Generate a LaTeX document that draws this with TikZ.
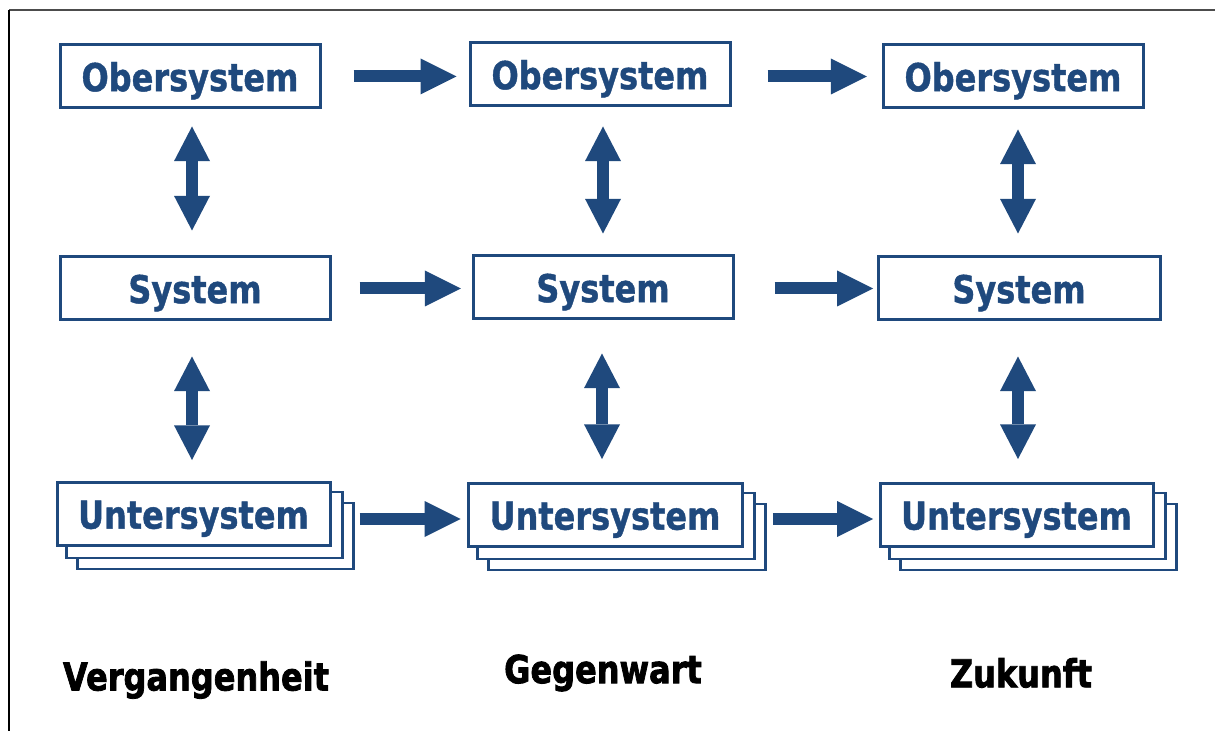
\documentclass[tikz,border=0pt]{standalone}
\usepackage{fontspec}
\usepackage{graphicx}
\setmainfont{DejaVu Sans}[BoldFeatures={FakeBold=1.2}]
\newfontfamily\heavyfont{DejaVu Sans}[BoldFeatures={FakeBold=2.2}]
\usetikzlibrary{arrows.meta,calc}
\pgfdeclarelayer{background}
\pgfsetlayers{background,main}
\definecolor{sysblue}{RGB}{31,73,125}
\newcommand{\boxtext}[1]{\scalebox{1}[1.2]{\bfseries #1}}
\newcommand{\epochtext}[1]{\scalebox{1}[1.2]{\heavyfont\bfseries #1}}
\tikzset{
  sysbox/.style={draw=sysblue, line width=2.25pt, fill=white, inner sep=0pt,
    minimum height=47.25pt, text=sysblue, text height=24pt, text depth=2pt,
    font=\fontsize{24pt}{28pt}\selectfont},
  stackcopy/.style={draw=sysblue, line width=2pt, fill=white},
  flowarrow/.style={draw=sysblue, line width=9pt,
    -{Triangle[width=27pt,length=27pt,line width=0pt]}},
  linkarrow/.style={draw=sysblue, line width=9pt,
    {Triangle[width=27pt,length=26pt,line width=0pt]}-{Triangle[width=27pt,length=26pt,line width=0pt]}},
  epoch/.style={font=\fontsize{24pt}{28pt}\selectfont, text=black, inner sep=0pt}
}
\begin{document}
\begin{tikzpicture}[x=0.75pt,y=-0.75pt]
\useasboundingbox (0,0) rectangle (1215,731);

% frame edges
\draw[black!70, line width=1.5pt] (1215,10) -- (9,10);
\draw[black, line width=1.5pt] (9,10) -- (9,731);

% past
\node[sysbox, minimum width=195pt]   (o1) at (190,76.5)  {\boxtext{Obersystem}};
\node[sysbox, minimum width=202.5pt] (s1) at (195,288.5) {\boxtext{System}};
\node[sysbox, minimum width=204.75pt](u1) at (193.5,514) {\boxtext{Untersystem}};
% present
\node[sysbox, minimum width=195pt]   (o2) at (600,74.5)  {\boxtext{Obersystem}};
\node[sysbox, minimum width=195pt]   (s2) at (603,287.5) {\boxtext{System}};
\node[sysbox, minimum width=205.5pt] (u2) at (605,515)   {\boxtext{Untersystem}};
% future
\node[sysbox, minimum width=195pt]   (o3) at (1013,76.5) {\boxtext{Obersystem}};
\node[sysbox, minimum width=211.5pt] (s3) at (1019,288.5){\boxtext{System}};
\node[sysbox, minimum width=204.75pt](u3) at (1016.5,515){\boxtext{Untersystem}};

% page background and stacked sheets behind each subsystem box
\begin{pgfonlayer}{background}
\fill[white] (0,0) rectangle (1215,731);
\foreach \u in {u1,u2,u3}{
  \draw[stackcopy] ([shift={(22,22)}]\u.south west) rectangle ([shift={(22,22)}]\u.north east);
  \draw[stackcopy] ([shift={(11,11)}]\u.south west) rectangle ([shift={(11,11)}]\u.north east);
}
\end{pgfonlayer}

% flow through time
\draw[flowarrow, shorten <=24pt, shorten >=9pt]   (o1.east) -- (o1.east -| o2.west);
\draw[flowarrow, shorten <=27pt, shorten >=11pt]  ([yshift=-1.5pt]o2.east) -- ([yshift=-1.5pt]o2.east -| o3.west);
\draw[flowarrow, shorten <=21pt, shorten >=8pt]   (s1.east) -- (s1.east -| s2.west);
\draw[flowarrow, shorten <=30pt, shorten >=2.5pt] ([yshift=-0.75pt]s2.east) -- ([yshift=-0.75pt]s2.east -| s3.west);
\draw[flowarrow, shorten <=21pt, shorten >=4.5pt] ([yshift=-3.75pt]u1.east) -- ([yshift=-3.75pt]u1.east -| u2.west);
\draw[flowarrow, shorten <=22pt, shorten >=4pt]   ([yshift=-3pt]u2.east) -- ([yshift=-3pt]u2.east -| u3.west);

% links between levels
\draw[linkarrow, shorten <=12.75pt, shorten >=18.75pt] ([xshift=1.5pt]o1.south) -- ([xshift=1.5pt]o1.south |- s1.north);
\draw[linkarrow, shorten <=26.25pt, shorten >=15.75pt] ([xshift=-2.25pt]s1.south) -- ([xshift=-2.25pt]s1.south |- u1.north);
\draw[linkarrow, shorten <=14.25pt, shorten >=15.75pt] (s2.north |- o2.south) -- (s2.north);
\draw[linkarrow, shorten <=24.75pt, shorten >=17.25pt] ([xshift=-0.75pt]s2.south) -- ([xshift=-0.75pt]s2.south |- u2.north);
\draw[linkarrow, shorten <=15pt, shorten >=16.5pt]     ([xshift=-0.75pt]s3.north |- o3.south) -- ([xshift=-0.75pt]s3.north);
\draw[linkarrow, shorten <=26.25pt, shorten >=17.25pt] ([xshift=-0.75pt]s3.south) -- ([xshift=-0.75pt]s3.south |- u3.north);

% time labels
\node[epoch] (past)    at (196,680)  {\epochtext{Vergangenheit}};
\node[epoch] (present) at (603,673)  {\epochtext{Gegenwart}};
\node[epoch] (future)  at (1021,673) {\epochtext{Zukunft}};
\end{tikzpicture}
\end{document}
